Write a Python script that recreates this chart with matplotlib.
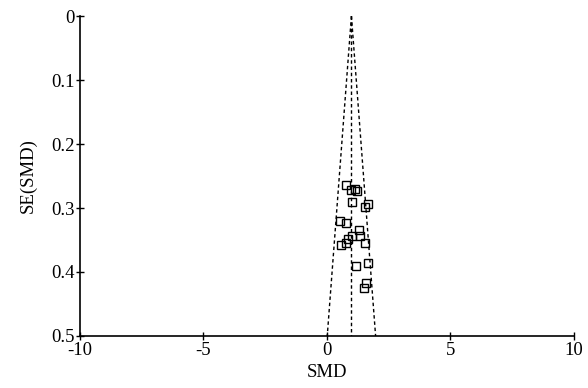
import matplotlib.pyplot as plt
import numpy as np

plt.rcParams['font.family'] = ['Liberation Serif', 'DejaVu Serif']
plt.rcParams['axes.unicode_minus'] = False

# ================ DATA ================
smd = [0.76, 1.00, 1.13, 1.23, 1.02, 1.54, 1.67, 0.53, 0.77, 1.31,
       1.02, 1.34, 0.86, 0.77, 0.59, 1.54, 1.17, 1.67, 1.61, 1.50]
se = [0.264, 0.272, 0.271, 0.274, 0.291, 0.299, 0.294, 0.320, 0.323, 0.334,
      0.343, 0.344, 0.349, 0.355, 0.358, 0.355, 0.391, 0.386, 0.417, 0.425]

pooled = 1.0
x_ticks = [-10, -5, 0, 5, 10]
y_ticks = [0, 0.1, 0.2, 0.3, 0.4, 0.5]
y_labels = ["0", "0.1", "0.2", "0.3", "0.4", "0.5"]

# ================ DRAW ================
fig = plt.figure(figsize=(5.88, 3.88), dpi=100)
ax = fig.add_axes([80/588, 1 - 336/388, (573.5 - 80)/588, (336 - 16)/388])

se_line = np.array([0, 0.5])
ax.plot([pooled, pooled], se_line, 'k', ls=(0, (2.5, 2)), lw=1)
ax.plot(pooled - 1.96*se_line, se_line, 'k', ls=(0, (2.5, 2)), lw=1)
ax.plot(pooled + 1.96*se_line, se_line, 'k', ls=(0, (2.5, 2)), lw=1)

ax.plot(smd, se, 's', mfc='none', mec='k', mew=1.0, ms=6)

ax.set_xlim(-10, 10)
ax.set_ylim(0.5, 0)
ax.set_xticks(x_ticks)
ax.set_yticks(y_ticks)
ax.set_yticklabels(y_labels)
for s in ['top', 'right']:
    ax.spines[s].set_visible(False)
ax.spines['left'].set_linewidth(1.2)
ax.spines['bottom'].set_linewidth(1.2)
ax.tick_params(direction='inout', length=6, width=1, labelsize=13.5, pad=1)

ax.set_xlabel("SMD", fontsize=13.5, labelpad=4)
ax.set_ylabel("SE(SMD)", fontsize=13.5, labelpad=10)

fig.savefig("out.png", dpi=100)
